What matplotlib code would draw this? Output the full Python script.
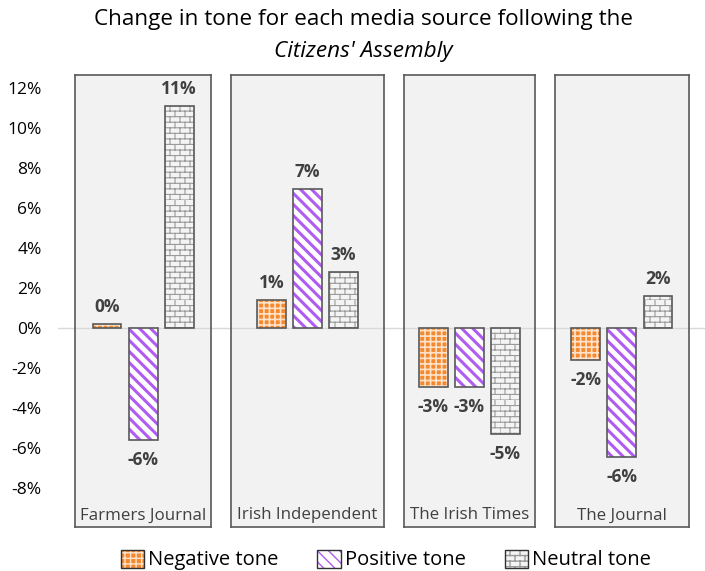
import warnings
import numpy as np
import matplotlib.pyplot as plt
import matplotlib.hatch as mhatch
from matplotlib.path import Path
from matplotlib.patches import Patch
from matplotlib.legend_handler import HandlerTuple

warnings.filterwarnings('ignore')
plt.rcParams['font.family'] = ['Open Sans', 'DejaVu Sans']

sources = ['Farmers Journal', 'Irish Independent', 'The Irish Times', 'The Journal']
series = ['Negative tone', 'Positive tone', 'Neutral tone']
negative = [0.2, 1.4, -2.95, -1.6]
positive = [-5.6, 6.95, -2.95, -6.45]
neutral = [11.1, 2.8, -5.3, 1.6]
yticks = [-8, -6, -4, -2, 0, 2, 4, 6, 8, 10, 12]


class BrickHatch(mhatch.HatchPatternBase):
    # 'b' in a hatch string -> staggered brick pattern
    rows, cols = 18, 10

    def __init__(self, hatch, density):
        self.on = hatch.count('b') > 0
        self.num_vertices = (2 * self.rows + 2 * self.rows * self.cols) if self.on else 0

    def set_vertices_and_codes(self, vertices, codes):
        pts = []
        for k in range(self.rows):
            y0, y1 = k / self.rows, (k + 1) / self.rows
            pts += [(0, y0), (1, y0)]
            shift = 0.5 * (k % 2) / self.cols
            for m in range(self.cols):
                x = m / self.cols + shift
                pts += [(x, y0), (x, y1)]
        vertices[:] = np.array(pts)
        codes[0::2] = Path.MOVETO
        codes[1::2] = Path.LINETO


mhatch._hatch_types.append(BrickHatch)

values = [negative, positive, neutral]
styles = [
    dict(face='#f5892e', hatch='+++', hcol='#fde2cc', hlw=1.2),
    dict(face='white', hatch='\\\\\\', hcol='#b05cf0', hlw=2.2),
    dict(face='#f4f4f4', hatch='b', hcol='#9a9a9a', hlw=0.8),
]
dark = '#404040'
edge = '#595959'

fig = plt.figure(figsize=(7.05, 5.71), dpi=100)
W, H = 705, 571
ymin, ymax = -9.95, 12.65

# background axes carrying the zero line across the whole width
bg = fig.add_axes([58 / W, 1 - 527 / H, 1 - 58 / W, (527 - 75) / H])
bg.set_ylim(ymin, ymax)
bg.axhline(0, color='#d9d9d9', lw=1)
bg.axis('off')

widths = [136, 152, 131, 134]
gs = fig.add_gridspec(1, 4, left=75 / W, right=689 / W, top=1 - 75 / H,
                      bottom=1 - 527 / H, width_ratios=widths,
                      wspace=20 / np.mean(widths))
px_per_unit = 36.0
for i, src in enumerate(sources):
    ax = fig.add_subplot(gs[0, i])
    ax.set_facecolor('#f2f2f2')
    half = widths[i] / px_per_unit / 2
    ax.set_xlim(1 - half, 1 + half)
    ax.set_ylim(ymin, ymax)
    ax.axhline(0, color='#d9d9d9', lw=1, zorder=1)
    for j, st in enumerate(styles):
        v = values[j][i]
        with plt.rc_context({'hatch.linewidth': st['hlw']}):
            ax.bar(j, v, 0.8, color=st['face'], hatch=st['hatch'],
                   edgecolor=st['hcol'], lw=0, zorder=2)
        ax.bar(j, v, 0.8, fill=False, edgecolor=edge, lw=1.2, zorder=3)
        off = 6 if v >= 0 else -8
        ax.annotate(f'{v:.0f}%'.replace('-0%', '0%'), (j, v),
                    xytext=(0, off), textcoords='offset points',
                    ha='center', va='bottom' if v >= 0 else 'top',
                    fontsize=12.5, fontweight='bold', color=dark)
    ax.text(0.5, 0.008, src, ha='center', va='bottom', fontsize=12.2,
            color=dark, transform=ax.transAxes)
    ax.set_xticks([])
    for s in ax.spines.values():
        s.set_color(edge)
        s.set_linewidth(1.2)
    ax.set_yticks(yticks)
    if i == 0:
        ax.set_yticklabels([f'{t}%' for t in yticks], fontsize=12.5, color='black')
        ax.tick_params(axis='y', length=0, pad=24)
    else:
        ax.tick_params(axis='y', length=0, labelleft=False)

fig.text(0.515, 1 - 19 / H, 'Change in tone for each media source following the',
         ha='center', va='center', fontsize=16.2, color='black')
fig.text(0.515, 1 - 51 / H, "Citizens' Assembly", ha='center', va='center',
         fontsize=16.2, style='italic', color='black')

handles = []
for st in styles:
    with plt.rc_context({'hatch.linewidth': st['hlw']}):
        fill = Patch(facecolor=st['face'], hatch=st['hatch'],
                     edgecolor=st['hcol'], lw=0)
    outline = Patch(fill=False, edgecolor='#303030', lw=1.0)
    handles.append((fill, outline))
fig.legend(handles, series, handler_map={tuple: HandlerTuple(ndivide=1, pad=0)},
           loc='center', bbox_to_anchor=(0.547, 1 - 560 / H),
           ncol=3, frameon=False, fontsize=14.5, handlelength=1.15,
           handleheight=1.0, handletextpad=0.2, columnspacing=1.95,
           borderpad=0)

fig.savefig('out.png', dpi=100, facecolor='white')
